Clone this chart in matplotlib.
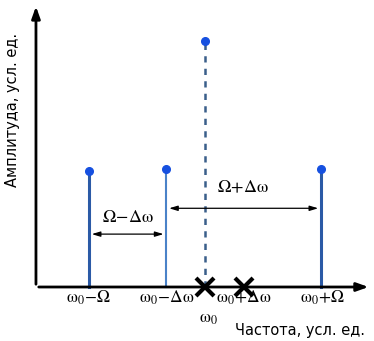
import matplotlib.pyplot as plt

# spectrum in units where Delta-omega = 1, Omega = 3, omega0 = 0
freqs = [-3.0, -1.0, 0.0, 3.0]
amps = [0.47, 0.48, 1.0, 0.48]
stem_colors = ['#2b5aa6', '#4a82c8', '#3a5f8a', '#2b5aa6']
stem_styles = ['-', '-', (0, (2.5, 2.5)), '-']
stem_widths = [2.2, 1.5, 1.8, 2.2]
cross_freqs = [0.0, 1.0]

w = r'\mathrm{\omega}'
tick_pos = [-3.0, -1.0, 0.1, 1.0, 3.05]
tick_lab = [r'$%s_0\!-\!\Omega$' % w, r'$%s_0\!-\!\Delta%s$' % (w, w), r'$%s_0$' % w,
            r'$%s_0\!+\!\Delta%s$' % (w, w), r'$%s_0\!+\!\Omega$' % w]
tick_y = [-0.045, -0.045, -0.125, -0.045, -0.045]

plt.rcParams['mathtext.fontset'] = 'stix'
fig = plt.figure(figsize=(3.74, 3.41), dpi=100)
ax = fig.add_axes([0, 0, 1, 1])
ax.set_xlim(-5.30, 4.37)
ax.set_ylim(-0.2195, 1.1667)
ax.axis('off')

x0 = -4.37  # y-axis position
# axes with arrows
ax.annotate('', xy=(x0, 1.152), xytext=(x0, 0), arrowprops=dict(arrowstyle='-|>,head_width=0.25,head_length=0.7', color='black', lw=2))
ax.annotate('', xy=(4.3, 0), xytext=(x0, 0), arrowprops=dict(arrowstyle='-|>,head_width=0.25,head_length=0.7', color='black', lw=2))

for f, a, c, ls, lw in zip(freqs, amps, stem_colors, stem_styles, stem_widths):
    ax.plot([f, f], [0, a], color=c, ls=ls, lw=lw, zorder=2)
    ax.plot(f, a, 'o', color='#1650e0', ms=5.5, zorder=3)

for f in cross_freqs:
    ax.plot(f, 0, marker='x', color='black', ms=13, mew=3, zorder=4)

# spacing arrows
ax.annotate('', xy=(freqs[0], 0.215), xytext=(freqs[1], 0.215),
            arrowprops=dict(arrowstyle='<|-|>,head_width=0.15,head_length=0.5', color='black', lw=0.9))
ax.text(-2.0, 0.285, r'$\Omega\!-\!\Delta%s$' % w, ha='center', va='center', fontsize=13)
ax.annotate('', xy=(freqs[1], 0.32), xytext=(freqs[3], 0.32),
            arrowprops=dict(arrowstyle='<|-|>,head_width=0.15,head_length=0.5', color='black', lw=0.9))
ax.text(0.98, 0.405, r'$\Omega\!+\!\Delta%s$' % w, ha='center', va='center', fontsize=13)

for p, l, yy in zip(tick_pos, tick_lab, tick_y):
    ax.text(p, yy, l, ha='center', va='center', fontsize=12.5)

ax.text(2.45, -0.175, 'Частота, усл. ед.', ha='center', va='center', fontsize=10.5)
ax.text(-4.98, 0.72, 'Амплитуда, усл. ед.', ha='center', va='center', rotation=90, fontsize=10.5)

fig.savefig('out.png', dpi=100)
